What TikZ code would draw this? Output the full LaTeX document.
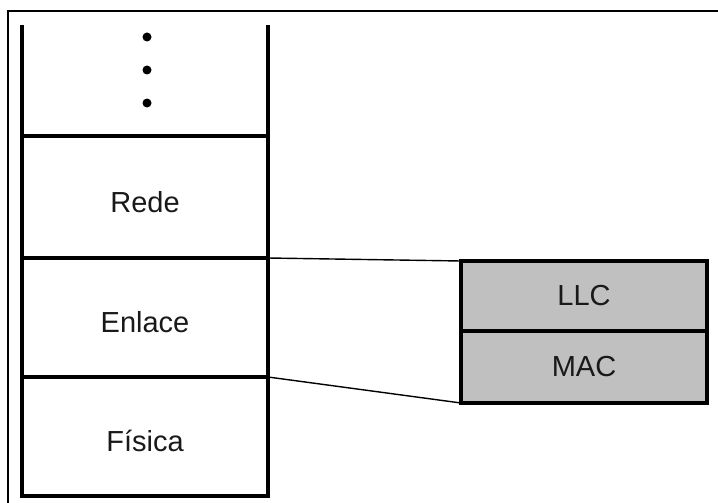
\documentclass[tikz,border=0pt]{standalone}
\usepackage{fontspec}
\setmainfont{Liberation Sans}
\definecolor{subgray}{HTML}{C0C0C0}
\begin{document}
\begin{tikzpicture}[x=1pt,y=-1pt,
  labelfont/.style={font=\fontsize{29}{32}\selectfont, text=black!90},
  layer/.style={draw, line width=3.5pt, inner sep=0pt, outer sep=0pt,
    minimum width=246pt, labelfont, text height=30pt, text depth=0pt},
  sublayer/.style={draw, line width=3.5pt, inner sep=0pt, outer sep=0pt,
    minimum width=246pt, fill=subgray, labelfont},
  zoomline/.style={line width=1.4pt},
  frame/.style={line width=2pt},
  stackside/.style={line width=3.5pt}]
  \useasboundingbox (0,0) rectangle (718,503);

  % open frame along the top and left edges
  \coordinate (frameTR) at (718,11);
  \coordinate (frameTL) at (8,11);
  \coordinate (frameBL) at (8,503);
  \draw[frame] (frameTR) -- (frameTL) -- (frameBL);

  % protocol stack
  \node[layer, minimum height=122pt] (rede)   at (145,197)   {Rede};
  \node[layer, minimum height=119pt] (enlace) at (145,317.5) {Enlace};
  \node[layer, minimum height=119pt] (fisica) at (145,436.5) {Física};

  % open upper part with ellipsis
  \coordinate (topL) at (22,25);
  \coordinate (topR) at (268,25);
  \draw[stackside] (rede.north west) -- (topL);
  \draw[stackside] (rede.north east) -- (topR);
  \foreach \yy [count=\i] in {37,70,103}
    \node[circle, fill=black, inner sep=0pt, minimum size=9pt] (dot\i) at (147,\yy) {};

  % sublayers of the link layer
  \node[sublayer, minimum height=70pt] (llc) at (584,296) {LLC};
  \node[sublayer, minimum height=72pt] (mac) at (584,367) {MAC};

  % expansion lines
  \draw[zoomline] (enlace.north east) -- (llc.north west);
  \draw[zoomline] (enlace.south east) -- (mac.south west);
\end{tikzpicture}
\end{document}
